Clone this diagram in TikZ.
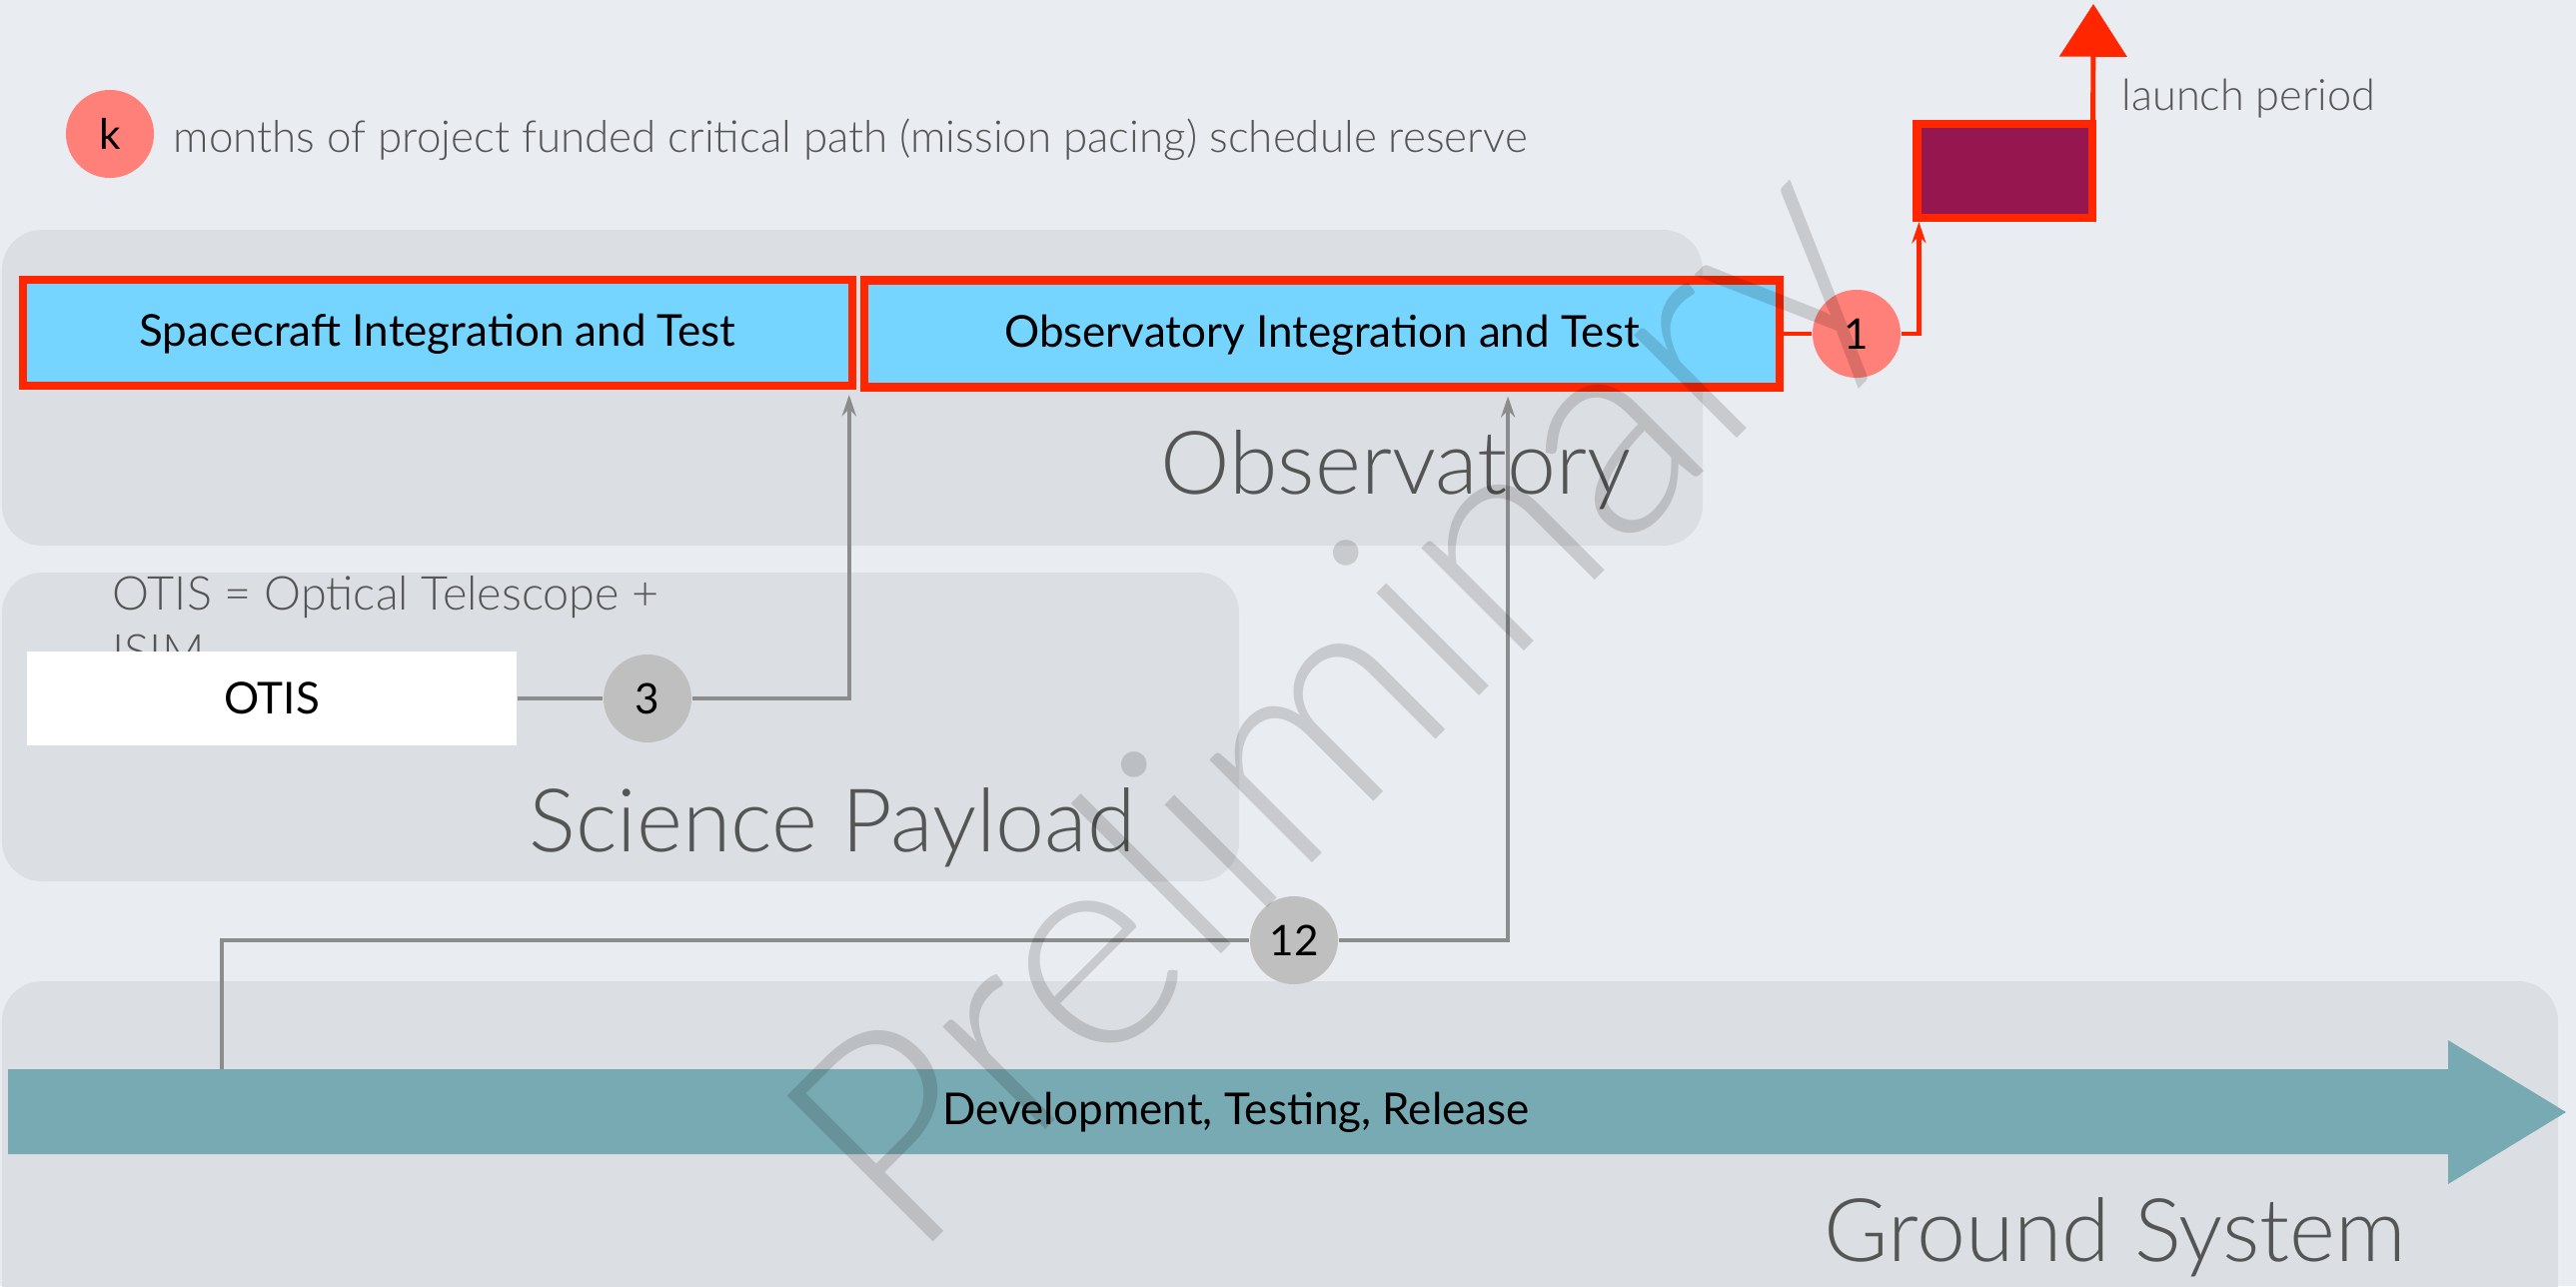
\documentclass[tikz,border=0pt]{standalone}
\usepackage{fontspec}
\setmainfont{Lato}
\newfontfamily\thinfont{Lato Light}
\usetikzlibrary{arrows.meta}
\usetikzlibrary{positioning}

\definecolor{slidebg}{RGB}{233,236,240}
\definecolor{bandgray}{RGB}{219,222,226}
\definecolor{critred}{RGB}{255,38,0}
\definecolor{reservered}{RGB}{255,127,121}
\definecolor{taskblue}{RGB}{117,213,255}
\definecolor{launchpurple}{RGB}{150,22,80}
\definecolor{devteal}{RGB}{120,170,180}
\definecolor{labelgray}{RGB}{85,85,85}
\definecolor{slackgray}{RGB}{191,191,191}
\definecolor{feedgray}{RGB}{140,140,140}

\begin{document}
\begin{tikzpicture}[x=0.01cm,y=-0.01cm]
\tikzset{
  band/.style={
    fill=bandgray,
                   rounded corners=0.4cm
    },
  task/.style={rectangle, draw=critred, line width=2.3pt, fill=taskblue,
    font=\fontsize{12.5}{15}\selectfont, text=black, text height=0.98em, text depth=0.2em},
  reserve/.style={circle, fill=reservered, minimum size=0.88cm, inner sep=0pt,
    font=\fontsize{12}{14}\selectfont},
  slack/.style={circle, fill=slackgray, minimum size=0.88cm, inner sep=0pt,
    font=\fontsize{12}{14}\selectfont},
  bigLabel/.style={text=labelgray, font=\thinfont\fontsize{25}{30}\selectfont,
    inner sep=0pt, anchor=base west},
  note/.style={text=labelgray, font=\thinfont\fontsize{12.5}{14}\selectfont,
    inner sep=0pt, anchor=base west},
  feed/.style={draw=feedgray, line width=1pt},
  crit/.style={draw=critred, line width=1.4pt}
}
    \fill[slidebg] (0,0) rectangle (2578,1287);
    \useasboundingbox (0,0) rectangle (2578,1287);

    % bands
    \fill[band] (2,230) rectangle (1704,546);
    \fill[band] (2,573) rectangle (1240,882);
    \fill[band] (2,982) rectangle (2560,1330);

    \node (kdot)[reserve] at (110,134) {k};
    \node (legend)[note] at (173,152) {months of project funded critical path (mission pacing) schedule reserve};

    \node (obsLabel)[bigLabel] at (1161,494) {Observatory};
    \node (spLabel)[bigLabel] at (529,852) {Science Payload};
    \node (gsLabel)[bigLabel] at (1825,1262) {Ground System};

    \node (otisNote)[note, anchor=north west, align=left,
      font=\thinfont\fontsize{13.3}{16.5}\selectfont] at (112,576) {OTIS = Optical Telescope +\\ISIM};

    \node (sit)[task, minimum width=8.29cm, minimum height=1.06cm] at (438,333) {Spacecraft Integration and Test};
    \node (oit)[task, minimum width=9.15cm, minimum height=1.07cm] at (1323,334) {Observatory Integration and Test};

    \node (launch)[rectangle, draw=critred, line width=2.3pt, fill=launchpurple,
      minimum width=1.75cm, minimum height=0.94cm] at (2006,171) {};
    \coordinate (liftoff) at (2095,4);
    \node (lp)[note, font=\thinfont\fontsize{12.3}{14}\selectfont] at (2123,110) {launch period};

    \node (r1)[reserve] at (1858,334) {1};
    \draw[crit] (oit) -- (r1);
    \draw[crit, -{Stealth[length=6pt,width=4pt]}] (r1) -| ([xshift=0.06cm]launch.south west);
    \draw[crit, -{Triangle[length=15pt,width=19pt]}] ([xshift=-0.03cm]launch.north east) -- (liftoff);

    \node (otis)[rectangle, fill=white, minimum width=4.9cm, minimum height=0.93cm,
      font=\fontsize{12.5}{15}\selectfont] at (272,699) {OTIS};
    \node (c3)[slack] at (648,699) {3};
    \draw[feed] (otis) -- (c3);
    \draw[feed, -{Stealth[length=6pt,width=4pt]}] (c3) -| ([xshift=-0.07cm,yshift=-0.05cm]sit.south east);

    % ground system
    \fill[devteal] (8,1070) -- (2450,1070) -- (2450,1041) -- (2568,1113)
      -- (2450,1185) -- (2450,1155) -- (8,1155) -- cycle;
    \node (dev)[font=\fontsize{12.5}{15}\selectfont, text=black, text height=0.9em, text depth=0.2em] at (1237,1113) {Development, Testing, Release};

    \node (c12)[slack] at (1295,941) {12};
    \coordinate (devtap) at (222,1070);
    \draw[feed] (devtap) |- (c12);
    \draw[feed, -{Stealth[length=6pt,width=4pt]}] (c12) -| ([xshift=1.86cm,yshift=-0.05cm]oit.south);

    \node (wm)[rotate=45, anchor=base west, inner sep=0pt, text=black, text opacity=0.14,
      font=\thinfont\fontsize{83}{90}\selectfont] at (912,1265) {Preliminary};

\end{tikzpicture}
\end{document}
